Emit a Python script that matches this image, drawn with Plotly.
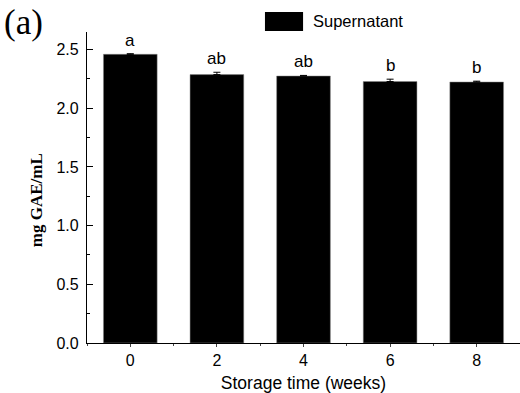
import plotly.graph_objects as go

weeks = [0, 2, 4, 6, 8]
means = [2.46, 2.287, 2.275, 2.228, 2.224]
errors = [0.005, 0.02, 0.005, 0.02, 0.007]
letters = ["a", "ab", "ab", "b", "b"]
series_name = "Supernatant"

fig = go.Figure()
fig.add_trace(go.Bar(
    x=weeks, y=means, width=1.24,
    marker=dict(color="black", line=dict(color="#888", width=0.5)),
    error_y=dict(type="data", array=errors, arrayminus=[0]*len(errors),
                 symmetric=False, color="black", thickness=1, width=3.5),
    showlegend=False,
))

for w, m, e, l in zip(weeks, means, errors, letters):
    fig.add_annotation(x=w, y=m + e, text=l, showarrow=False, xref="x", yref="y",
                       yanchor="bottom", yshift=2,
                       font=dict(family="Liberation Sans, Arial", size=17, color="black"))

# legend
fig.add_shape(type="rect", xref="paper", yref="paper", x0=0.411, x1=0.499,
              y0=1.0032, y1=1.0643, fillcolor="black", line=dict(color="black", width=0))
fig.add_annotation(x=0.518, y=1.034, xref="paper", yref="paper", text=series_name,
                   showarrow=False, xanchor="left", yanchor="middle",
                   font=dict(family="Liberation Sans, Arial", size=16.5, color="black"))

# panel label
fig.add_annotation(x=-0.197, y=1.03, xref="paper", yref="paper", text="(a)", showarrow=False,
                   xanchor="left", yanchor="middle",
                   font=dict(family="Liberation Serif, Times New Roman", size=35, color="black"))

# y title
fig.add_annotation(x=-0.115, y=0.46, xref="paper", yref="paper", text="<b>mg GAE/mL</b>",
                   showarrow=False, textangle=-90, xanchor="center", yanchor="middle",
                   font=dict(family="Liberation Serif, Times New Roman", size=17, color="black"))

fig.update_layout(
    width=520, height=393,
    margin=dict(l=87, r=0, t=32, b=50),
    paper_bgcolor="white", plot_bgcolor="white",
    font=dict(family="Liberation Sans, Arial", size=16, color="black"),
    xaxis=dict(range=[-1, 9], tickmode="array", tickvals=weeks, ticktext=[str(w) for w in weeks],
               showline=True, linecolor="black", linewidth=1.2, showgrid=False, zeroline=False,
               ticks="outside", ticklen=3, tickcolor="#444",
               minor=dict(dtick=1, tick0=1, ticks="outside", ticklen=2, tickcolor="#444"),
               title=dict(text="Storage time (weeks)", font=dict(size=17.5), standoff=11)),
    yaxis=dict(range=[0, 2.65], tickmode="linear", tick0=0, dtick=0.5, tickformat=".1f",
               showline=True, linecolor="black", linewidth=1.2, showgrid=False, zeroline=False,
               ticks="inside", ticklen=6, tickcolor="black", ticklabelstandoff=4,
               minor=dict(dtick=0.25, ticks="inside", ticklen=3, tickcolor="black")),
)

fig.write_html("out.html")
